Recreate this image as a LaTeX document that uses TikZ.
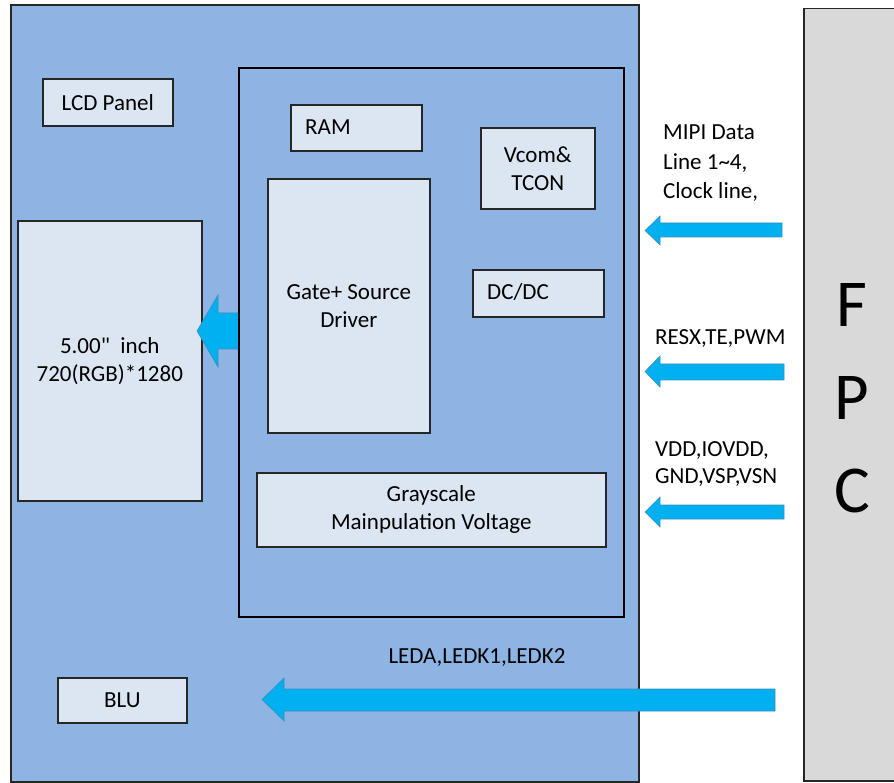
\documentclass[tikz,border=0pt]{standalone}
\usepackage{fontspec}
\setmainfont{Carlito}
\newfontfamily\carl{Carlito}
\definecolor{bluefill}{HTML}{8EB4E3}
\definecolor{lightbox}{HTML}{DCE6F2}
\definecolor{fpcgray}{HTML}{D9D9D9}
\definecolor{arrowblue}{HTML}{00B0F0}
\definecolor{arrowedge}{HTML}{3C8DBE}
\definecolor{edgedark}{HTML}{262626}
\begin{document}
\begin{tikzpicture}[x=1pt,y=-1pt,
  frame/.style={draw=edgedark, line width=1.5pt, fill=bluefill},
  box/.style={draw=edgedark, line width=1.6pt, fill=lightbox, anchor=north west, inner sep=0pt, align=center,
    font=\carl\fontsize{23}{28}\selectfont},
  lbl/.style={inner sep=0pt, align=left, font=\carl\fontsize{23}{28.5}\selectfont},
  blockarrow/.style={fill=arrowblue, draw=arrowedge, line width=0.6pt, line join=miter}
]
\useasboundingbox (0,0) rectangle (894,783);
\clip (0,0) rectangle (894,783);

% outer module and FPC
\path[frame] (11,5) rectangle (639,782);
\node[draw=edgedark, line width=1.5pt, fill=fpcgray, anchor=north west, minimum width=110pt, minimum height=772pt, inner sep=0pt] (fpc) at (803,8) {};
\node[inner sep=0pt, align=center, font=\carl\fontsize{67}{93}\selectfont] (fpct) at (852,398) {F\\P\\C};

% driver IC frame
\path[frame, draw=black] (239,68) rectangle (624,617);

% boxes
\node[box, minimum width=130pt, minimum height=47pt] (lcd) at (42,78) {LCD Panel};
\node[box, minimum width=184pt, minimum height=280pt] (panel) at (17,220) {5.00"\ \ inch\\720(RGB)*1280};
\node[box, minimum width=131pt, minimum height=46pt] (ram) at (290,104) {};
\node[lbl, anchor=west] (ramt) at (305,127) {RAM};
\node[box, minimum width=114pt, minimum height=81pt] (vcom) at (480,127) {Vcom\&\\TCON};
\node[box, minimum width=162pt, minimum height=254pt] (drv) at (267,178) {Gate+ Source\\Driver};
\node[box, minimum width=131pt, minimum height=47pt] (dcdc) at (472,269) {};
\node[lbl, anchor=west] (dcdct) at (487,292) {DC/DC};
\node[box, minimum width=349pt, minimum height=74pt] (gray) at (256,472) {Grayscale\\Mainpulation Voltage};
\node[box, minimum width=129pt, minimum height=45pt] (blu) at (57,677) {BLU};

% signal labels
\node[lbl, anchor=west, font=\carl\fontsize{23}{29.5}\selectfont] (mipi) at (663,163.5) {MIPI Data\\Line 1\char"007E 4,\\Clock line,};
\node[lbl, anchor=west] (resx) at (655,339) {RESX,TE,PWM};
\node[lbl, anchor=west, font=\carl\fontsize{23}{27}\selectfont] (pwr) at (655,464) {VDD,IOVDD,\\GND,VSP,VSN};
\node[lbl] (led) at (477,658) {LEDA,LEDK1,LEDK2};

% block arrows
\path[blockarrow] (239,313) -- (218,313) -- (218,295) -- (197,331) -- (218,367) -- (218,349) -- (239,349) -- cycle;
\draw[black, line width=1.5pt] (239,300) -- (239,362);
\path[blockarrow] (782,223) -- (660,223) -- (660,216) -- (645,230.5) -- (660,245) -- (660,237) -- (782,237) -- cycle;
\path[blockarrow] (784,364) -- (660,364) -- (660,356) -- (645,371.5) -- (660,387) -- (660,380) -- (784,380) -- cycle;
\path[blockarrow] (784,505) -- (660,505) -- (660,497) -- (645,512) -- (660,527) -- (660,519) -- (784,519) -- cycle;
\path[blockarrow] (775,689) -- (284,689) -- (284,678) -- (262,699.5) -- (284,721) -- (284,711) -- (775,711) -- cycle;
\end{tikzpicture}
\end{document}
